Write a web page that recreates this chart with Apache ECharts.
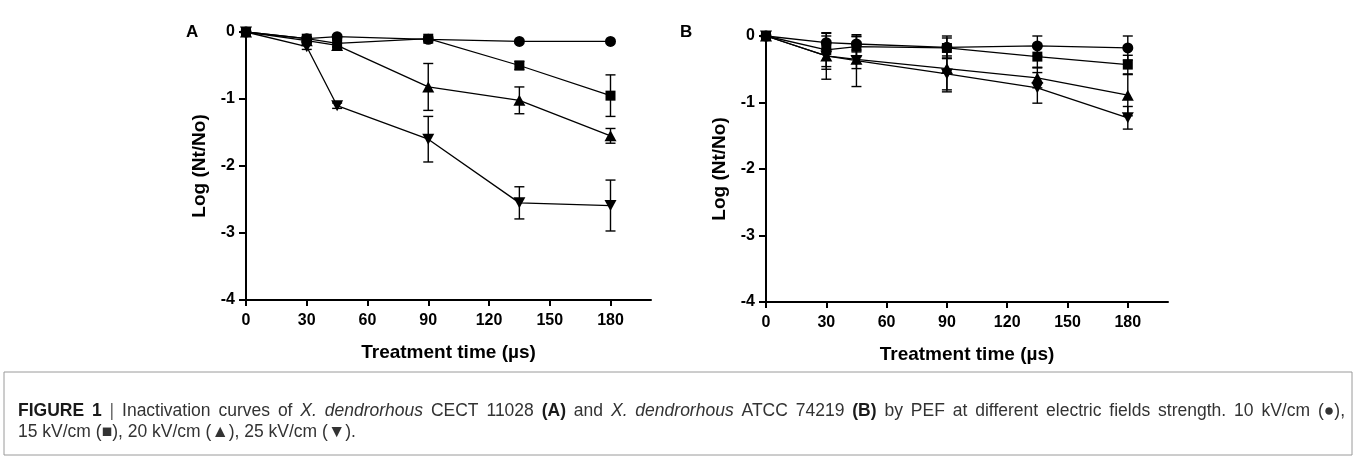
<!DOCTYPE html>
<html><head><meta charset="utf-8">
<script src="https://cdn.jsdelivr.net/npm/echarts@6/dist/echarts.min.js"></script>
<style>html,body{margin:0;padding:0;background:#fff}#c{width:1357px;height:457px}</style>
</head><body><div id="c"></div>
<script>
// ---- data ----
const times = [0, 30, 45, 90, 135, 180];
const xTickLabels = [0, 30, 60, 90, 120, 150, 180];
const yTickLabels = [0, -1, -2, -3, -4];
const seriesNames = ['10 kV/cm', '15 kV/cm', '20 kV/cm', '25 kV/cm'];
// Panel A: X. dendrorhous CECT 11028
const A_10 = [0, -0.10, -0.07, -0.11, -0.14, -0.14];
const A_10_err = [0, 0, 0, 0, 0, 0];
const A_15 = [0, -0.10, -0.17, -0.10, -0.50, -0.95];
const A_15_err = [0, 0.03, 0.05, 0.03, 0.06, 0.31];
const A_20 = [0, -0.13, -0.20, -0.82, -1.02, -1.55];
const A_20_err = [0, 0.03, 0.04, 0.35, 0.20, 0.11];
const A_25 = [0, -0.22, -1.10, -1.60, -2.55, -2.59];
const A_25_err = [0, 0.04, 0.04, 0.34, 0.24, 0.38];
// Panel B: X. dendrorhous ATCC 74219
const B_10 = [0, -0.10, -0.12, -0.17, -0.15, -0.18];
const B_10_err = [0, 0.10, 0.12, 0.17, 0.15, 0.18];
const B_15 = [0, -0.21, -0.16, -0.18, -0.31, -0.43];
const B_15_err = [0, 0.25, 0.15, 0.15, 0.16, 0.14];
const B_20 = [0, -0.30, -0.35, -0.49, -0.63, -0.89];
const B_20_err = [0, 0.20, 0.14, 0.32, 0.15, 0.31];
const B_25 = [0, -0.30, -0.37, -0.57, -0.78, -1.23];
const B_25_err = [0, 0.35, 0.39, 0.27, 0.23, 0.17];
// caption words (text, style) for line 1, and line 2
const captionLine1 = [
  ['FIGURE', 'b'], ['1', 'b'], ['|', 'g'], ['Inactivation', 'n'], ['curves', 'n'], ['of', 'n'],
  ['X.', 'i'], ['dendrorhous', 'i'], ['CECT', 'n'], ['11028', 'n'], ['(A)', 'b'], ['and', 'n'],
  ['X.', 'i'], ['dendrorhous', 'i'], ['ATCC', 'n'], ['74219', 'n'], ['(B)', 'b'], ['by', 'n'],
  ['PEF', 'n'], ['at', 'n'], ['different', 'n'], ['electric', 'n'], ['fields', 'n'],
  ['strength.', 'n'], ['10', 'n'], ['kV/cm', 'n'], ['(●),', 'n']
];
const captionLine2 = '15 kV/cm (■), 20 kV/cm (▲), 25 kV/cm (▼).';

// ---- style ----
const FONT = '"Liberation Sans", Arial, sans-serif';
const CAPFONT = '"Liberation Sans Narrow", "Liberation Sans", Arial, sans-serif';
const CAP = 17.5;
const symbols = ['circle', 'rect', 'triangle', 'path://M0,0L20,0L10,17Z'];
const symbolSizes = [11, 10, [12, 11], [12, 11]];

const chart = echarts.init(document.getElementById('c'), null, {renderer: 'canvas'});

function errRender(params, api) {
  const x = api.value(0), y = api.value(1), e = api.value(2);
  if (!e) return null;
  const top = api.coord([x, y + e]);
  const bot = api.coord([x, y - e]);
  const w = 5;
  const st = {stroke: '#000', lineWidth: 1.4};
  return {type: 'group', children: [
    {type: 'line', shape: {x1: top[0], y1: top[1], x2: bot[0], y2: bot[1]}, style: st},
    {type: 'line', shape: {x1: top[0] - w, y1: top[1], x2: top[0] + w, y2: top[1]}, style: st},
    {type: 'line', shape: {x1: bot[0] - w, y1: bot[1], x2: bot[0] + w, y2: bot[1]}, style: st}
  ]};
}

function xAxis(gi) {
  return {
    type: 'value', gridIndex: gi, min: 0, max: 200, interval: 30,
    name: 'Treatment time (µs)', nameLocation: 'middle', nameGap: 43,
    nameTextStyle: {fontFamily: FONT, fontWeight: 'bold', fontSize: 19, color: '#000'},
    axisLine: {show: true, onZero: false, lineStyle: {color: '#000', width: 2}},
    axisTick: {show: true, length: 6, inside: false, lineStyle: {color: '#000', width: 2}, customValues: xTickLabels},
    axisLabel: {fontFamily: FONT, fontWeight: 'bold', fontSize: 16, color: '#000', margin: 13, customValues: xTickLabels},
    splitLine: {show: false}
  };
}
function yAxis(gi) {
  return {
    type: 'value', gridIndex: gi, min: -4, max: 0, interval: 1,
    name: 'Log (Nt/No)', nameLocation: 'middle', nameGap: 37, nameRotate: 90,
    nameTextStyle: {fontFamily: FONT, fontWeight: 'bold', fontSize: 19, color: '#000'},
    axisLine: {show: true, onZero: false, lineStyle: {color: '#000', width: 2}},
    axisTick: {show: true, length: 7, inside: false, lineStyle: {color: '#000', width: 2}, customValues: yTickLabels},
    axisLabel: {fontFamily: FONT, fontWeight: 'bold', fontSize: 16, color: '#000', margin: 11, customValues: yTickLabels},
    splitLine: {show: false}
  };
}

const panels = [
  [A_10, A_15, A_20, A_25],
  [B_10, B_15, B_20, B_25]
];
const panelErrs = [
  [A_10_err, A_15_err, A_20_err, A_25_err],
  [B_10_err, B_15_err, B_20_err, B_25_err]
];

const series = [];
panels.forEach((sets, gi) => {
  sets.forEach((vals, si) => {
    const errs = panelErrs[gi][si];
    series.push({
      type: 'custom', name: seriesNames[si] + ' err', xAxisIndex: gi, yAxisIndex: gi,
      renderItem: errRender, encode: {x: 0, y: 1}, clip: false, z: 2, silent: true,
      data: times.map((t, i) => [t, vals[i], errs[i]])
    });
    series.push({
      type: 'line', name: seriesNames[si], xAxisIndex: gi, yAxisIndex: gi,
      data: times.map((t, i) => [t, vals[i]]),
      symbol: symbols[si], symbolSize: symbolSizes[si], showAllSymbol: true,
      lineStyle: {color: '#000', width: 1.3},
      itemStyle: {color: '#000', borderWidth: 0},
      clip: false, z: 3, animation: false
    });
  });
});

// ---- caption (justified first line) ----
const styleFont = s => (s === 'b' ? 'bold ' : s === 'i' ? 'italic ' : '') + CAP + 'px ' + CAPFONT;
const styleFill = s => (s === 'b' ? '#1a1a1a' : s === 'g' ? '#666' : '#333');
const mctx = document.createElement('canvas').getContext('2d');
const wWidths = captionLine1.map(w => { mctx.font = styleFont(w[1]); return mctx.measureText(w[0]).width; });
const capLeft = 18, capRight = 1345;
const gap = (capRight - capLeft - wWidths.reduce((a, b) => a + b, 0)) / (captionLine1.length - 1);
const captionGraphics = [];
let cx = capLeft;
captionLine1.forEach((w, i) => {
  captionGraphics.push({type: 'text', x: cx, y: 411, style: {
    text: w[0], font: styleFont(w[1]), fill: styleFill(w[1]), align: 'left', verticalAlign: 'middle'
  }});
  cx += wWidths[i] + gap;
});
captionGraphics.push({type: 'text', x: capLeft, y: 432, style: {
  text: captionLine2, font: styleFont('n'), fill: '#333', align: 'left', verticalAlign: 'middle'
}});

const option = {
  animation: false,
  backgroundColor: '#fff',
  grid: [
    {left: 246, top: 32, width: 405, height: 268},
    {left: 766, top: 36, width: 402, height: 266}
  ],
  xAxis: [xAxis(0), xAxis(1)],
  yAxis: [yAxis(0), yAxis(1)],
  series: series,
  graphic: [
    {type: 'text', left: 186, top: 24, style: {text: 'A', font: 'bold 17px ' + FONT, fill: '#000'}},
    {type: 'text', left: 680, top: 24, style: {text: 'B', font: 'bold 17px ' + FONT, fill: '#000'}},
    {type: 'rect', shape: {x: 4, y: 372, width: 1348, height: 83}, style: {fill: 'none', stroke: '#9a9a9a', lineWidth: 1}}
  ].concat(captionGraphics)
};
chart.setOption(option);
</script></body></html>
